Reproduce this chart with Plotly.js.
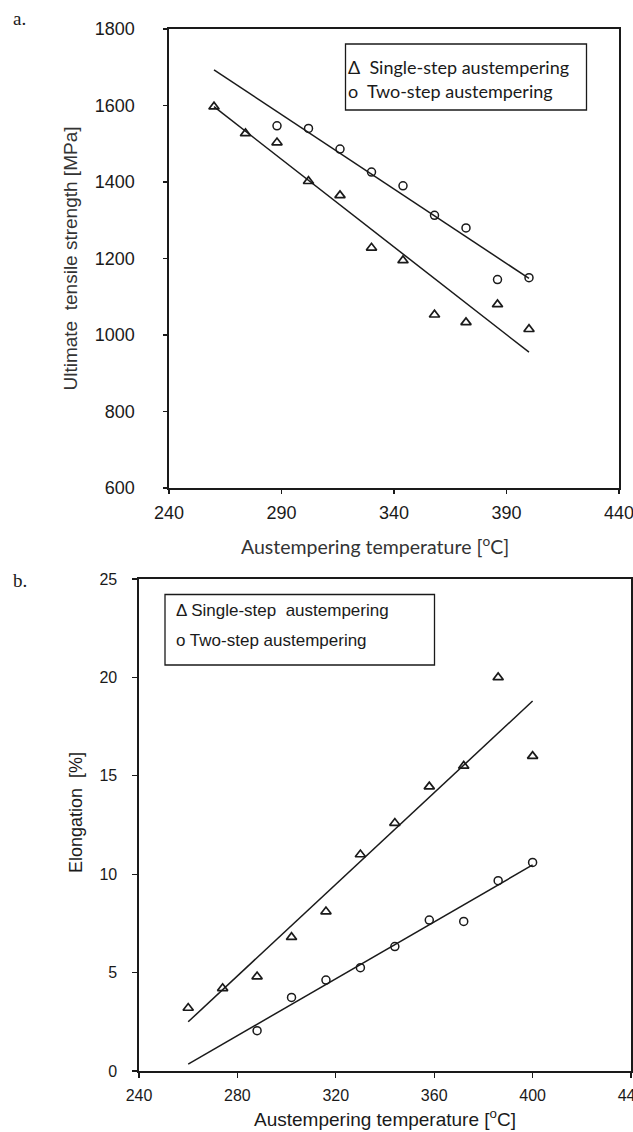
<!DOCTYPE html>
<html>
<head>
<meta charset="utf-8">
<script src="https://cdn.plot.ly/plotly-3.0.1.min.js"></script>
<style>
  html, body { margin: 0; padding: 0; background: #fff; }
  #chart { width: 633px; height: 1132px; }
</style>
</head>
<body>
<div id="chart"></div>
<script>
// ---------- Data ----------
// Panel a: ultimate tensile strength vs austempering temperature
var tempSingleA = [260, 274, 288, 302, 316, 330, 344, 358, 372, 386, 400];
var utsSingle   = [1597, 1527, 1503, 1402, 1365, 1228, 1195, 1053, 1033, 1080, 1015];
var tempTwoA    = [288, 302, 316, 330, 344, 358, 372, 386, 400];
var utsTwo      = [1547, 1540, 1486, 1426, 1390, 1313, 1280, 1145, 1150];
var fitTempA       = [260, 400];
var fitUtsSingle   = [1597, 955];
var fitUtsTwo      = [1693, 1148];

// Panel b: elongation vs austempering temperature
var tempSingleB = [260, 274, 288, 302, 316, 330, 344, 358, 372, 386, 400];
var elongSingle = [3.2, 4.2, 4.8, 6.8, 8.1, 11.0, 12.6, 14.45, 15.5, 20.0, 16.0];
var tempTwoB    = [288, 302, 316, 330, 344, 358, 372, 386, 400];
var elongTwo    = [2.05, 3.74, 4.62, 5.25, 6.32, 7.67, 7.6, 9.67, 10.6];
var fitTempB       = [260, 400];
var fitElongSingle = [2.5, 18.8];
var fitElongTwo    = [0.35, 10.47];

// Tick labels
var ticksXA = [240, 290, 340, 390, 440];
var ticksYA = [600, 800, 1000, 1200, 1400, 1600, 1800];
var ticksXB = [240, 280, 320, 360, 400, 440];
var ticksYB = [0, 5, 10, 15, 20, 25];

var legendSingle = "Single-step austempering";
var legendTwo = "Two-step austempering";

// ---------- Styling ----------
var W = 633, H = 1132;
function px(x) { return x / W; }
function py(y) { return 1 - y / H; }
var ink = "#1a1a1a";
var arial = "Liberation Sans, Arial, sans-serif";
var calibriLike = "Lato, Open Sans, sans-serif";

var triMarker = { symbol: "triangle-up-open", size: 9, color: ink, line: { color: ink, width: 1.7 } };
var cirMarker = { symbol: "circle-open", size: 8, color: ink, line: { color: ink, width: 1.5 } };
var fitLine = { color: ink, width: 1.5 };

var traces = [
  { x: fitTempA, y: fitUtsSingle, mode: "lines", line: fitLine, xaxis: "x", yaxis: "y", showlegend: false, hoverinfo: "skip" },
  { x: fitTempA, y: fitUtsTwo, mode: "lines", line: fitLine, xaxis: "x", yaxis: "y", showlegend: false, hoverinfo: "skip" },
  { x: tempSingleA, y: utsSingle, mode: "markers", marker: triMarker, name: legendSingle, xaxis: "x", yaxis: "y", showlegend: false },
  { x: tempTwoA, y: utsTwo, mode: "markers", marker: cirMarker, name: legendTwo, xaxis: "x", yaxis: "y", showlegend: false },

  { x: fitTempB, y: fitElongSingle, mode: "lines", line: fitLine, xaxis: "x2", yaxis: "y2", showlegend: false, hoverinfo: "skip" },
  { x: fitTempB, y: fitElongTwo, mode: "lines", line: fitLine, xaxis: "x2", yaxis: "y2", showlegend: false, hoverinfo: "skip" },
  { x: tempSingleB, y: elongSingle, mode: "markers", marker: triMarker, name: legendSingle, xaxis: "x2", yaxis: "y2", showlegend: false },
  { x: tempTwoB, y: elongTwo, mode: "markers", marker: cirMarker, name: legendTwo, xaxis: "x2", yaxis: "y2", showlegend: false }
];

function axisBase(extra) {
  var a = {
    showline: true, mirror: true, linecolor: ink, linewidth: 1.6,
    showgrid: false, zeroline: false,
    ticks: "outside", tickcolor: ink, tickwidth: 1.4,
    ticklabeloverflow: "allow",
    fixedrange: true
  };
  for (var k in extra) a[k] = extra[k];
  return a;
}

var layout = {
  width: W, height: H,
  margin: { l: 0, r: 0, t: 0, b: 0 },
  paper_bgcolor: "#fff", plot_bgcolor: "#fff",
  showlegend: false,
  xaxis: axisBase({
    domain: [px(169), px(619)], range: [240, 440], anchor: "y",
    tickmode: "array", tickvals: ticksXA, ticklen: 4,
    tickfont: { family: arial, size: 18, color: ink },
    ticklabelstandoff: 4
  }),
  yaxis: axisBase({
    domain: [py(488), py(29)], range: [600, 1800], anchor: "x",
    tickmode: "array", tickvals: ticksYA, ticklen: 4,
    tickfont: { family: arial, size: 18, color: ink },
    ticklabelstandoff: 25,
    title: { text: "Ultimate\u00a0 tensile strength [MPa]", font: { family: arial, size: 19, color: "#333" }, standoff: 12 }
  }),
  xaxis2: axisBase({
    domain: [px(139), px(631)], range: [240, 440], anchor: "y2",
    tickmode: "array", tickvals: ticksXB, ticklen: 5,
    tickfont: { family: arial, size: 16, color: ink },
    ticklabelstandoff: 4,
    title: { text: "Austempering temperature [<sup>o</sup>C]", font: { family: arial, size: 19, color: ink }, standoff: 10 }
  }),
  yaxis2: axisBase({
    domain: [py(1071), py(579)], range: [0, 25], anchor: "x2",
    tickmode: "array", tickvals: ticksYB, ticklen: 5,
    tickfont: { family: arial, size: 16, color: ink },
    ticklabelstandoff: 12
  }),
  shapes: [
    { type: "rect", xref: "paper", yref: "paper", x0: px(345.5), x1: px(586.5), y0: py(110), y1: py(44),
      line: { color: ink, width: 1.3 }, fillcolor: "rgba(0,0,0,0)" },
    { type: "rect", xref: "paper", yref: "paper", x0: px(165), x1: px(434.5), y0: py(665), y1: py(594.5),
      line: { color: ink, width: 1.3 }, fillcolor: "rgba(0,0,0,0)" }
  ],
  annotations: [
    // panel labels
    { text: "a.", xref: "paper", yref: "paper", x: px(11), y: py(18), xanchor: "left", yanchor: "middle",
      showarrow: false, font: { family: "Liberation Serif, Times New Roman, serif", size: 19, color: ink } },
    { text: "b.", xref: "paper", yref: "paper", x: px(11), y: py(580), xanchor: "left", yanchor: "middle",
      showarrow: false, font: { family: "Liberation Serif, Times New Roman, serif", size: 19, color: ink } },
    // panel a legend
    { text: "\u0394\u00a0 " + legendSingle, xref: "paper", yref: "paper", x: px(346), y: py(67.5), xanchor: "left", yanchor: "middle",
      showarrow: false, font: { family: calibriLike, size: 18, color: ink } },
    { text: "o\u00a0 " + legendTwo, xref: "paper", yref: "paper", x: px(346), y: py(91), xanchor: "left", yanchor: "middle",
      showarrow: false, font: { family: calibriLike, size: 18, color: ink } },
    // panel a x title
    { text: "Austempering temperature [<sup>o</sup>C]", xref: "paper", yref: "paper", x: px(375), y: py(545), xanchor: "center", yanchor: "middle",
      showarrow: false, font: { family: calibriLike, size: 19.5, color: "#333" } },
    // panel b legend
    { text: "\u0394 " + legendSingle.replace(" ", "\u00a0 "), xref: "paper", yref: "paper", x: px(174), y: py(610), xanchor: "left", yanchor: "middle",
      showarrow: false, font: { family: arial, size: 17, color: ink } },
    { text: "o " + legendTwo, xref: "paper", yref: "paper", x: px(174), y: py(640), xanchor: "left", yanchor: "middle",
      showarrow: false, font: { family: arial, size: 17, color: ink } },
    // panel b y title
    { text: "Elongation\u00a0 [%]", xref: "paper", yref: "paper", x: px(76), y: py(813), xanchor: "center", yanchor: "middle",
      textangle: -90, showarrow: false, font: { family: arial, size: 18, color: ink } }
  ]
};

Plotly.newPlot("chart", traces, layout, { staticPlot: true, displayModeBar: false });
</script>
</body>
</html>
